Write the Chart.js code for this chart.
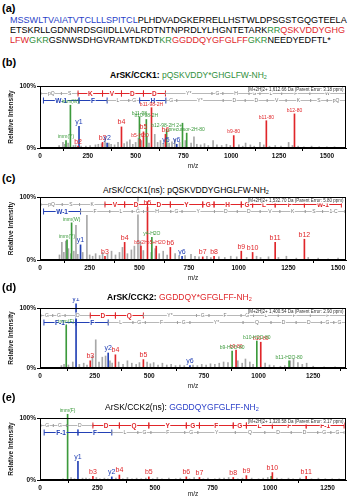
<!DOCTYPE html>
<html>
<head>
<meta charset="utf-8">
<script src="https://cdn.jsdelivr.net/npm/chart.js@4.4.1/dist/chart.umd.min.js"></script>
<style>
body { margin: 0; background: #fff; font-family: "Liberation Sans", Arial, sans-serif; }
#page { position: relative; width: 352px; height: 500px; overflow: hidden; }
.lab { position: absolute; left: 2px; font-weight: bold; font-size: 11px; line-height: 12px; }
.seq { position: absolute; left: 10px; font-size: 8.8px; line-height: 10px; white-space: nowrap; }
.ttl { position: absolute; font-size: 8.5px; line-height: 9px; white-space: nowrap; }
.ttl sub { font-size: 5.5px; vertical-align: -1px; }
canvas { position: absolute; left: 0; }
.bl { color: #2a3fc8; } .gr { color: #2f8f3a; } .rd { color: #e0262a; }
</style>
</head>
<body>
<div id="page">
  <div class="lab" style="top:2px">(a)</div>
  <div class="seq" id="seq1" style="top:15px"><span class="bl">MSSWLTVAIATVTCLLLSPITCL</span>PLHDVADGKERRELLHSTWLDPSGSTGQGTEELA</div>
  <div class="seq" style="top:25px">ETSKRLLGDNNRDSGIIDLLVALRDTNTNPRDLYLHGNTETARK<span class="gr">RR</span><span class="rd">QSKVDDYGHG</span></div>
  <div class="seq" style="top:35px"><span class="rd">LFW</span><span class="gr">GKR</span>GSNWSDHGVRAMTDKDT<span class="gr">KR</span><span class="rd">GGDDQYGFGLFF</span><span class="gr">GKR</span>NEEDYEDFTL*</div>

  <div class="lab" style="top:56px">(b)</div>
  <div class="ttl" style="top:71px;left:110px"><b>ArSK/CCK1:</b> <span class="gr">pQSKVDDY*GHGLFW-NH<sub>2</sub></span></div>
  <canvas id="cB" width="352" height="94" style="top:78px"></canvas>

  <div class="lab" style="top:172px">(c)</div>
  <div class="ttl" style="top:186px;left:103px">ArSK/CCK1(ns): pQSKVDDYGHGLFW-NH<sub>2</sub></div>
  <canvas id="cC" width="352" height="95" style="top:189px"></canvas>

  <div class="lab" style="top:281px">(d)</div>
  <div class="ttl" style="top:293px;left:107px"><b>ArSK/CCK2:</b> <span class="rd">GGDDQY*GFGLFF-NH<sub>2</sub></span></div>
  <canvas id="cD" width="352" height="94" style="top:298px"></canvas>

  <div class="lab" style="top:391px">(e)</div>
  <div class="ttl" style="top:403px;left:105px">ArSK/CCK2(ns): <span class="bl">GGDDQYGFGLFF-NH<sub>2</sub></span></div>
  <canvas id="cE" width="352" height="92" style="top:408px"></canvas>
</div>
<script>
const RED = '#e0262a', BLUE = '#2341b5', GREEN = '#3c9a3c', GRAY = '#a8a8a8';

// (b) ArSK/CCK1, sulfated
const cck1XMax = 1600;
const cck1Ticks = [0, 250, 500, 750, 1000, 1250, 1500];
const cck1GrayMz = [100,120,130,147,175,186,215,240,262,290,305,322,340,360,372,390,408,440,455,470,485,500,515,530,560,570,600,615,630,645,675,690,705,730,760,790,805,820,840,860,880,905,925,950,975,995,1040,1060,1075,1100,1120,1150,1170,1200,1230,1260,1300,1320,1350,1380,1420,1460,1500,1540];
const cck1GrayInt = [4,9,6,8,4,5,3,3,4,5,6,7,12,8,6,5,9,7,10,13,6,9,16,12,18,8,22,9,12,7,8,10,14,9,12,8,18,6,5,7,4,12,5,4,6,4,5,3,8,5,3,9,5,3,4,3,9,4,3,2,3,2,2,2];
const cck1RedMz = [199, 327, 426, 523, 541, 583, 656, 1013, 1183.5, 1330.6];
const cck1RedInt = [3, 9, 34, 14, 26, 65, 22, 20, 44, 55];
const cck1RedLab = ['b2','b3','b4','b5-H2O','b5','b11-98-2H','b6','b9-80','b11-80','b12-80'];
const cck1BlueMz = [204, 351, 658, 715];
const cck1BlueInt = [35, 8, 5, 6];
const cck1BlueLab = ['y1','y2','y5','y6'];
const cck1GreenMz = [136, 159, 520, 556, 662, 745, 767];
const cck1GreenInt = [12, 69, 50, 46, 30, 40, 24];
const cck1GreenLab = ['imm(Y)','imm(W)','b11-98','b10-98-2H','b12-98-2H 2+','','precursor-2H-80'];
const cck1BBounds = [1,112,199,327,426,541,656,899,956,1093,1150,1263.5,1410.6,1596.7];
const cck1BRes = ['pQ','S','K','V','D','D','Y*','G','H','G','L','F','W'];
const cck1BHi = [2,3,4,5];
const cck1YBounds = [18,204,351,464,521,658,715,958,1073,1188,1287,1415,1502,1613];
const cck1YRes = ['W-1','F','L','G','H','G','Y*','D','D','V','K','S','pQ'];
const cck1YHi = [0,1,4];
const cck1Info = '[M+2H]2+ 1,612.66 Da (Parent Error: 3.18 ppm)';

// (c) ArSK/CCK1, non-sulfated
const cck1nsXMax = 1540;
const cck1nsTicks = [0, 250, 500, 750, 1000, 1250, 1500];
const cck1nsGrayMz = [98,110,120,130,143,155,170,181,190,215,236,250,265,280,300,315,340,360,380,400,415,440,460,475,493,505,520,560,580,600,620,640,680,700,730,760,780,800,840,860,900,930,960,990,1040,1090,1110,1150,1200,1240,1290,1350,1400,1450,1500];
const cck1nsGrayInt = [8,28,12,30,18,10,14,55,9,12,71,8,6,10,7,12,9,14,8,12,20,10,16,22,100,30,15,12,18,10,14,8,10,6,7,9,6,5,6,4,5,4,6,5,4,6,4,5,4,6,3,4,3,2,3];
const cck1nsRedMz = [327,426,508,541,585,656,819,876,1013,1070,1183.5,1330.6];
const cck1nsRedInt = [6,28,22,84,22,20,5,6,14,12,28,33];
const cck1nsRedLab = ['b3','b4','b5-2H','b5','b5+H2O','b6','b7','b8','b9','b10','b11','b12'];
const cck1nsBlueMz = [204, 715];
const cck1nsBlueInt = [24, 6];
const cck1nsBlueLab = ['y1','y6'];
const cck1nsGreenMz = [136, 159, 563];
const cck1nsGreenInt = [32, 59, 36];
const cck1nsGreenLab = ['imm(Y)','imm(W)','y4-H2O'];
const cck1nsBBounds = [1,112,199,327,426,541,656,819,876,1013,1070,1183.5,1330.6,1516.7];
const cck1nsBRes = ['pQ','S','K','V','D','D','Y','G','H','G','L','F','W-1'];
const cck1nsBHi = [3,4,5,6,7,8,9,10,11,12];
const cck1nsYBounds = [18,204,351,464,521,658,715,878,993,1108,1207,1335,1422,1533];
const cck1nsYRes = ['W-1','F','L','G','H','G','Y','D','D','V','K','S','1-C'];
const cck1nsYHi = [0];
const cck1nsInfo = '[M+2H]2+ 1,532.70 Da (Parent Error: 5.80 ppm)';

// (d) ArSK/CCK2, sulfated
const cck2XMax = 1400;
const cck2Ticks = [0, 250, 500, 750, 1000, 1250];
const cck2GrayMz = [98,110,130,150,180,200,215,240,255,270,285,300,320,330,360,380,400,420,440,455,490,505,520,540,560,580,600,620,640,660,700,720,740,760,780,800,820,840,860,905,925,940,960,975,1030,1050,1070,1100,1120,1145,1160,1180,1200,1220,1250,1300,1350];
const cck2GrayInt = [4,6,5,10,6,8,5,20,47,10,18,20,12,8,10,6,12,8,6,9,10,7,9,5,8,5,6,4,5,4,5,4,6,5,7,6,8,10,9,12,8,15,10,6,8,5,4,3,4,12,15,9,6,8,3,2,2];
const cck2RedMz = [230, 345, 473, 897, 1010];
const cck2RedInt = [12, 22, 14, 30, 43];
const cck2RedLab = ['b3','b4','b5','b9-80','b10-80'];
const cck2BlueMz = [165, 312, 686];
const cck2BlueInt = [107, 25, 4];
const cck2BlueLab = ['y1','y2','y6'];
const cck2GreenMz = [120, 879, 992, 1139.5];
const cck2GreenInt = [72, 28, 45, 12];
const cck2GreenLab = ['imm(F)','b9-H2O-80','b10-H2O-80','b11-H2O-80'];
const cck2BBounds = [1,58,115,230,345,473,716,773,920,977,1090,1237,1401];
const cck2BRes = ['G','G','D','D','Q','Y*','G','F','G','L','F','F'];
const cck2BHi = [3,4];
const cck2YBounds = [18,165,312,425,482,629,686,929,1057,1172,1287,1344,1401];
const cck2YRes = ['F-1','F','L','G','F','G','Y*','Q','D','D','G','G'];
const cck2YHi = [0,1];
const cck2Info = '[M+2H]2+ 1,400.54 Da (Parent Error: 2.90 ppm)';

// (e) ArSK/CCK2, non-sulfated
const cck2nsXMax = 1330;
const cck2nsTicks = [0, 250, 500, 750, 1000, 1250];
const cck2nsGrayMz = [100,135,150,185,200,215,245,260,280,295,330,360,380,400,420,440,460,490,510,530,560,590,610,650,670,710,730,760,780,800,820,860,880,920,950,970,990,1030,1050,1080,1100,1130,1180,1210,1240,1270,1300];
const cck2nsGrayInt = [2,4,2,3,3,2,4,2,3,2,3,2,4,2,3,2,3,2,4,2,3,2,3,2,4,2,3,2,3,3,4,2,3,3,2,3,4,3,2,3,2,3,2,3,2,2,2];
const cck2nsRedMz = [230, 345, 473, 636, 693, 840, 897, 1010, 1157];
const cck2nsRedInt = [6, 8, 5, 5, 4, 4, 7, 12, 6];
const cck2nsRedLab = ['b3','b4','b5','b6','b7','b8','b9','b10','b11'];
const cck2nsBlueMz = [165, 312];
const cck2nsBlueInt = [30, 5];
const cck2nsBlueLab = ['y1','y2'];
const cck2nsGreenMz = [120, 1005];
const cck2nsGreenInt = [106, 6];
const cck2nsGreenLab = ['imm(F)',''];
const cck2nsBBounds = [1,58,115,230,345,473,636,693,840,897,1010,1157,1321.6];
const cck2nsBRes = ['G','G','D','D','Q','Y','G','F','G','L','F','F-1'];
const cck2nsBHi = [3,4,5,6,7,8,9,10,11];
const cck2nsYBounds = [18,165,312,425,482,629,686,849,977,1092,1207,1264,1321.6];
const cck2nsYRes = ['F-1','F','L','G','F','G','Y','Q','D','D','G','G'];
const cck2nsYHi = [0,1];
const cck2nsInfo = '[M+2H]2+ 1,320.58 Da (Parent Error: 3.17 ppm)';

// fit the sequence lines to the panel width
(function () {
  const s = document.getElementById('seq1');
  const w = s.getBoundingClientRect().width;
  const fs = 8.8 * 337 / w;
  document.querySelectorAll('.seq').forEach(e => e.style.fontSize = fs + 'px');
})();

const FONT = '"Liberation Sans", Arial, sans-serif';

const boxPlugin = {
  id: 'box',
  afterDraw(chart) {
    const a = chart.chartArea, c = chart.ctx;
    c.save();
    c.strokeStyle = '#000';
    c.lineWidth = 1;
    c.strokeRect(Math.round(a.left) + 0.5, Math.round(a.top) + 0.5, Math.round(a.width) - 1, Math.round(a.height) - 1);
    c.restore();
  }
};

function drawLadder(chart, bounds, res, hi, y, hiColor) {
  const xs = chart.scales.x, c = chart.ctx, a = chart.chartArea;
  for (let i = 0; i < res.length; i++) {
    const x0 = Math.max(xs.getPixelForValue(bounds[i]), a.left + 1);
    const x1 = Math.min(xs.getPixelForValue(bounds[i + 1]), a.right - 1);
    const on = hi.indexOf(i) >= 0;
    c.strokeStyle = on ? hiColor : '#9a9a9a';
    c.lineWidth = on ? 1 : 0.7;
    c.beginPath();
    c.moveTo(x0, y); c.lineTo(x1, y);
    const th = on ? 3 : 1.5;
    c.moveTo(x0, y - th); c.lineTo(x0, y + th);
    if (x1 < a.right - 1) { c.moveTo(x1, y - th); c.lineTo(x1, y + th); }
    c.stroke();
    c.font = on ? 'bold 6.5px ' + FONT : '5px ' + FONT;
    const t = res[i], w = c.measureText(t).width;
    const mx = (x0 + x1) / 2;
    c.fillStyle = '#fff';
    c.fillRect(mx - w / 2 - 0.5, y - 3, w + 1, 6);
    c.fillStyle = on ? hiColor : '#777';
    c.textAlign = 'center';
    c.textBaseline = 'middle';
    c.fillText(t, mx, y + 0.5);
  }
}

const ladderPlugin = {
  id: 'ladder',
  afterDatasetsDraw(chart, args, o) {
    const a = chart.chartArea, c = chart.ctx;
    c.save();
    drawLadder(chart, o.bBounds, o.bRes, o.bHi, Math.round(a.top) + 7.5, RED);
    drawLadder(chart, o.yBounds, o.yRes, o.yHi, Math.round(a.top) + 14.5, BLUE);
    c.font = '4.5px ' + FONT;
    const w = c.measureText(o.info).width;
    c.fillStyle = '#fff';
    c.fillRect(a.right - 3 - w, a.top + 1.5, w + 1, 5);
    c.fillStyle = '#333';
    c.textAlign = 'right';
    c.textBaseline = 'middle';
    c.fillText(o.info, a.right - 2.5, a.top + 4);
    c.restore();
  }
};

const labelPlugin = {
  id: 'peakLabels',
  afterDatasetsDraw(chart) {
    const c = chart.ctx;
    c.save();
    chart.data.datasets.forEach((ds, di) => {
      if (!ds.peakLabels) return;
      chart.getDatasetMeta(di).data.forEach((el, i) => {
        const t = ds.peakLabels[i];
        if (!t) return;
        c.font = (t.length <= 3 ? '7px ' : '5px ') + FONT;
        c.fillStyle = ds.backgroundColor;
        c.textAlign = 'center';
        c.textBaseline = 'bottom';
        c.fillText(t, el.x, el.y - 1);
      });
    });
    c.restore();
  }
};

function pts(mz, inten) { return mz.map((m, i) => ({ x: m, y: inten[i] })); }

function spectrum(id, xmax, ticks, sets, ladder, axisH) {
  new Chart(document.getElementById(id), {
    type: 'bar',
    data: {
      datasets: sets.map(s => ({
        data: pts(s[0], s[1]),
        peakLabels: s[2],
        backgroundColor: s[3],
        barThickness: 1,
        grouped: false,
        clip: false
      }))
    },
    options: {
      responsive: false,
      animation: false,
      devicePixelRatio: 1,
      layout: { padding: { top: id === 'cD' || id === 'cE' ? 10 : 8, right: 6, left: 0, bottom: 0 } },
      plugins: { legend: { display: false }, tooltip: { enabled: false }, ladder: ladder },
      scales: {
        x: {
          type: 'linear', min: 0, max: xmax, offset: false,
          grid: { drawOnChartArea: false, tickLength: 3, color: '#000' },
          border: { color: '#000' },
          ticks: { autoSkip: false, maxRotation: 0, padding: 1, color: '#111', font: { family: FONT, size: 6.5, weight: 'bold' }, callback: v => String(v) },
          afterBuildTicks(s) { s.ticks = ticks.map(v => ({ value: v })); },
          afterFit(s) { s.height = axisH; },
          title: { display: true, text: 'm/z', color: '#111', font: { family: FONT, size: 6.5 }, padding: { top: 0, bottom: 2 } }
        },
        y: {
          min: 0, max: 100,
          grid: { drawOnChartArea: false, tickLength: 3, color: '#000' },
          border: { color: '#000' },
          ticks: { padding: 1, color: '#111', font: { family: FONT, size: 6.5, weight: 'bold' }, callback: v => v + '%' },
          afterBuildTicks(s) { s.ticks = [{ value: 0 }, { value: 100 }]; },
          afterFit(s) { s.width = 40; },
          title: { display: true, text: 'Relative Intensity', color: '#111', font: { family: FONT, size: 6.5, weight: 'bold' }, padding: { top: 7, bottom: 0 } }
        }
      }
    },
    plugins: [boxPlugin, ladderPlugin, labelPlugin]
  });
}

spectrum('cB', cck1XMax, cck1Ticks, [
  [cck1RedMz, cck1RedInt, cck1RedLab, RED],
  [cck1BlueMz, cck1BlueInt, cck1BlueLab, BLUE],
  [cck1GreenMz, cck1GreenInt, cck1GreenLab, GREEN],
  [cck1GrayMz, cck1GrayInt, null, GRAY]
], { bBounds: cck1BBounds, bRes: cck1BRes, bHi: cck1BHi, yBounds: cck1YBounds, yRes: cck1YRes, yHi: cck1YHi, info: cck1Info }, 24);

spectrum('cC', cck1nsXMax, cck1nsTicks, [
  [cck1nsRedMz, cck1nsRedInt, cck1nsRedLab, RED],
  [cck1nsBlueMz, cck1nsBlueInt, cck1nsBlueLab, BLUE],
  [cck1nsGreenMz, cck1nsGreenInt, cck1nsGreenLab, GREEN],
  [cck1nsGrayMz, cck1nsGrayInt, null, GRAY]
], { bBounds: cck1nsBBounds, bRes: cck1nsBRes, bHi: cck1nsBHi, yBounds: cck1nsYBounds, yRes: cck1nsYRes, yHi: cck1nsYHi, info: cck1nsInfo }, 24);

spectrum('cD', cck2XMax, cck2Ticks, [
  [cck2RedMz, cck2RedInt, cck2RedLab, RED],
  [cck2BlueMz, cck2BlueInt, cck2BlueLab, BLUE],
  [cck2GreenMz, cck2GreenInt, cck2GreenLab, GREEN],
  [cck2GrayMz, cck2GrayInt, null, GRAY]
], { bBounds: cck2BBounds, bRes: cck2BRes, bHi: cck2BHi, yBounds: cck2YBounds, yRes: cck2YRes, yHi: cck2YHi, info: cck2Info }, 24);

spectrum('cE', cck2nsXMax, cck2nsTicks, [
  [cck2nsRedMz, cck2nsRedInt, cck2nsRedLab, RED],
  [cck2nsBlueMz, cck2nsBlueInt, cck2nsBlueLab, BLUE],
  [cck2nsGreenMz, cck2nsGreenInt, cck2nsGreenLab, GREEN],
  [cck2nsGrayMz, cck2nsGrayInt, null, GRAY]
], { bBounds: cck2nsBBounds, bRes: cck2nsBRes, bHi: cck2nsBHi, yBounds: cck2nsYBounds, yRes: cck2nsYRes, yHi: cck2nsYHi, info: cck2nsInfo }, 20);
</script>
</body>
</html>
